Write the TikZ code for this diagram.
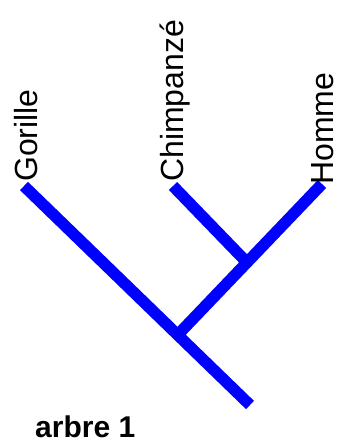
\documentclass[tikz,border=0pt]{standalone}
\usepackage{fontspec}
\setmainfont{Liberation Sans}
\usetikzlibrary{calc}

\begin{document}
\begin{tikzpicture}[x=1pt,y=1pt,yscale=-1,
  branche/.style={color={rgb, 255:red, 0; green, 0; blue, 255 },line width=11.5pt},
  espece/.style={rotate=90,anchor=base west,inner sep=0pt,font=\fontsize{32}{38}\selectfont}]
\useasboundingbox (0,0) rectangle (340,445);

%Coordinates of the branch ends
\coordinate (gor) at (24,186);
\coordinate (chi) at (173,186);
\coordinate (hom) at (322,184);
\coordinate (racine) at (250,405);
\coordinate (n1) at ($(gor)!0.68!(racine)$);
\coordinate (n2) at ($(hom)!0.52!(n1)$);

%Straight Lines
\draw [branche] (gor) -- (racine) ;
%Straight Lines
\draw [branche] (hom) -- (n1) ;
%Straight Lines
\draw [branche] (chi) -- (n2) ;

% Text Node
\node [espece] (tgor) at (37,182) {Gorille};
% Text Node
\node [espece] (tchi) at (183,182) {Chimpanzé};
% Text Node
\node [espece] (thom) at (333,185) {Homme};
% Text Node
\node [anchor=base west,inner sep=0pt,font=\fontsize{30}{36}\bfseries] (titre) at (35,437) {arbre 1};
\end{tikzpicture}
\end{document}
